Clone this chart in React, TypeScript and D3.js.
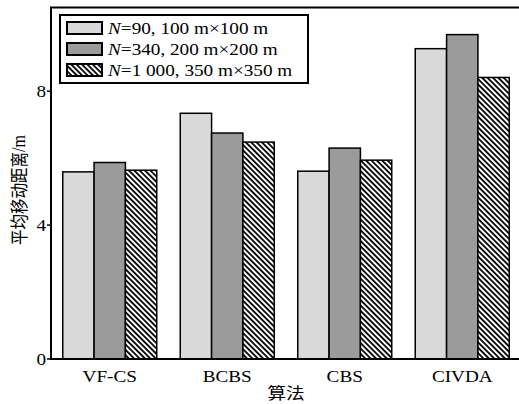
import React from "react";
import * as d3 from "d3";

// Algorithms compared
const categories = ["VF-CS", "BCBS", "CBS", "CIVDA"];

// Average moving distance (m) per scenario
const seriesSmall = [5.59, 7.34, 5.61, 9.27];
const seriesMedium = [5.87, 6.75, 6.3, 9.69];
const seriesLarge = [5.64, 6.48, 5.94, 8.41];

const seriesNames = [
  { n: "90", rest: ", 100 m×100 m" },
  { n: "340", rest: ", 200 m×200 m" },
  { n: "1 000", rest: ", 350 m×350 m" },
];

const yTicks = [0, 4, 8];

const W = 519;
const H = 404;
const left = 51;
const right = 521;
const top = 7.5;
const bottom = 359;

const serif = "'Liberation Serif', 'Times New Roman', serif";
const cjk = "'Noto Sans CJK SC', sans-serif";
const SX = 1.2;

export default function App() {
  const series = [seriesSmall, seriesMedium, seriesLarge];
  const fills = ["#d9d9d9", "#9b9b9b", "url(#hatch)"];

  const x = d3
    .scaleBand<string>()
    .domain(categories)
    .range([left, right])
    .paddingInner(0.2)
    .paddingOuter(0.1);
  const xs = d3
    .scaleBand<number>()
    .domain([0, 1, 2])
    .range([0, x.bandwidth()]);
  const y = d3.scaleLinear().domain([0, 10.5]).range([bottom, top]);

  return (
    <svg
      width={W}
      height={H}
      style={{ position: "absolute", left: 0, top: 0, background: "#fff" }}
    >
      <defs>
        <pattern
          id="hatch"
          patternUnits="userSpaceOnUse"
          width={3.8}
          height={3.8}
          patternTransform="rotate(-45)"
        >
          <rect width={3.8} height={3.8} fill="#fff" />
          <line x1={1} y1={0} x2={1} y2={3.8} stroke="#000" strokeWidth={1.8} />
        </pattern>
      </defs>

      {/* bars */}
      {categories.map((c, i) => (
        <g key={c}>
          {series.map((s, k) => (
            <rect
              key={k}
              x={(x(c) as number) + (xs(k) as number)}
              y={y(s[i])}
              width={xs.bandwidth()}
              height={y(0) - y(s[i])}
              fill={fills[k]}
              stroke="#000"
              strokeWidth={1.5}
            />
          ))}
        </g>
      ))}

      {/* frame */}
      <rect
        x={left}
        y={top}
        width={right - left}
        height={bottom - top}
        fill="none"
        stroke="#000"
        strokeWidth={2}
      />

      {/* y ticks */}
      {yTicks.map((t) => (
        <g key={t}>
          <line x1={left - 4} x2={left} y1={y(t)} y2={y(t)} stroke="#000" strokeWidth={1.5} />
          <g transform={`translate(${left - 5},${y(t) + 5.5}) scale(${SX},1)`}>
            <text textAnchor="end" fontFamily={serif} fontSize={16} fill="#000">
              {t}
            </text>
          </g>
        </g>
      ))}

      {/* x labels */}
      {categories.map((c) => (
        <g
          key={c}
          transform={`translate(${(x(c) as number) + x.bandwidth() / 2},382) scale(${SX},1)`}
        >
          <text textAnchor="middle" fontFamily={serif} fontSize={16} fill="#000">
            {c}
          </text>
        </g>
      ))}

      {/* axis titles */}
      <g transform={`translate(${(left + right) / 2},399) scale(${SX},1)`}>
        <text textAnchor="middle" fontFamily={cjk} fontSize={15.5} fill="#000">
          算法
        </text>
      </g>
      <g transform={`translate(18,190) scale(${SX},1) rotate(-90)`}>
        <text
          textAnchor="middle"
          dominantBaseline="central"
          fontFamily={cjk}
          fontSize={15.5}
          fill="#000"
        >
          平均移动距离
          <tspan fontFamily={serif} fontSize={16}>/m</tspan>
        </text>
      </g>

      {/* legend */}
      <rect x={60} y={15} width={248} height={68} fill="#fff" stroke="#000" strokeWidth={2} />
      {seriesNames.map((s, k) => {
        const ry = 22 + k * 21;
        return (
          <g key={k}>
            <rect
              x={67}
              y={ry}
              width={35}
              height={12}
              fill={fills[k]}
              stroke="#000"
              strokeWidth={2}
            />
            <g transform={`translate(108,${ry + 12.3}) scale(${SX},1)`}>
              <text fontFamily={serif} fontSize={16} fill="#000">
                <tspan fontStyle="italic">N</tspan>={s.n}
                {s.rest}
              </text>
            </g>
          </g>
        );
      })}
    </svg>
  );
}
